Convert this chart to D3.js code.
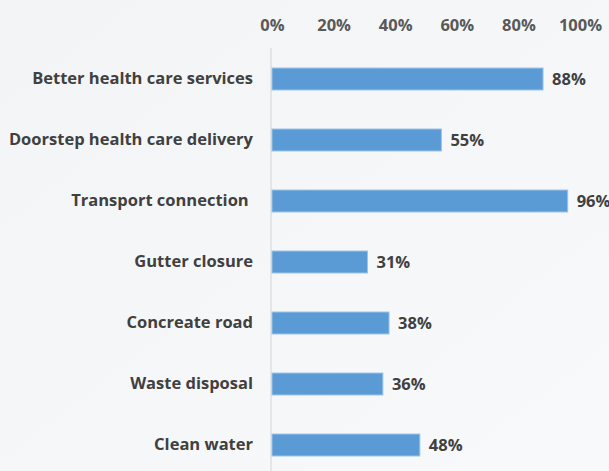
<!DOCTYPE html>
<html>
<head>
<meta charset="utf-8">
<script src="https://cdn.jsdelivr.net/npm/d3@7/dist/d3.min.js"></script>
<style>
  html, body { margin: 0; padding: 0; background: #f5f6f8; }
  svg { display: block; }
  text { font-family: "Open Sans", sans-serif; font-weight: bold; white-space: pre; }
</style>
</head>
<body>
<script>
// Share of respondents naming each improvement
const categories = [
  "Better health care services",
  "Doorstep health care delivery",
  "Transport connection ",
  "Gutter closure",
  "Concreate road",
  "Waste disposal",
  "Clean water"
];
const values = [88, 55, 96, 31, 38, 36, 48];
const tickValues = [0, 20, 40, 60, 80, 100];

const W = 609, H = 471;
const svg = d3.select("body").append("svg").attr("width", W).attr("height", H);

const defs = svg.append("defs");
const bg = defs.append("linearGradient").attr("id", "bg")
  .attr("x1", 0).attr("y1", 0).attr("x2", 1).attr("y2", 1);
bg.append("stop").attr("offset", "0%").attr("stop-color", "#f3f4f6");
bg.append("stop").attr("offset", "100%").attr("stop-color", "#f8f9fa");
svg.append("rect").attr("width", W).attr("height", H).attr("fill", "url(#bg)");

const x = d3.scaleLinear().domain([0, 100]).range([272, 580]);
const y = d3.scaleBand().domain(categories).range([48.5, 475.5]).paddingInner(0.64).paddingOuter(0.32);

// Top percentage axis
const xAxis = d3.axisTop(x).tickValues(tickValues).tickFormat(d => d + "%").tickSize(0).tickPadding(0);
const gx = svg.append("g").attr("transform", "translate(0,31)").call(xAxis);
gx.select(".domain").remove();
gx.selectAll("text").attr("fill", "#595959").style("font-size", "16.5px")
  .style("font-family", "'Open Sans', sans-serif").style("font-weight", "bold");

// Category axis with vertical baseline
const yAxis = d3.axisLeft(y).tickSize(0).tickPadding(18);
const gy = svg.append("g").attr("transform", "translate(271,0)").call(yAxis);
gy.select(".domain").attr("stroke", "#d4d4d4").attr("d", "M0,48V471");
gy.selectAll("text").attr("fill", "#404040").style("font-size", "16.5px")
  .style("font-family", "'Open Sans', sans-serif").style("font-weight", "bold");

// Bars
svg.append("g").selectAll("rect").data(categories).join("rect")
  .attr("x", x(0))
  .attr("y", d => y(d))
  .attr("width", (d, i) => x(values[i]) - x(0))
  .attr("height", y.bandwidth())
  .attr("fill", "#5b9bd5")
  .attr("stroke", "#9cc3e6")
  .attr("stroke-width", 1);

// Value labels
svg.append("g").selectAll("text").data(categories).join("text")
  .attr("x", (d, i) => x(values[i]) + 9)
  .attr("y", d => y(d) + y.bandwidth() / 2)
  .attr("dy", "0.35em")
  .attr("fill", "#404040")
  .style("font-size", "16.5px")
  .text((d, i) => values[i] + "%");
</script>
</body>
</html>
